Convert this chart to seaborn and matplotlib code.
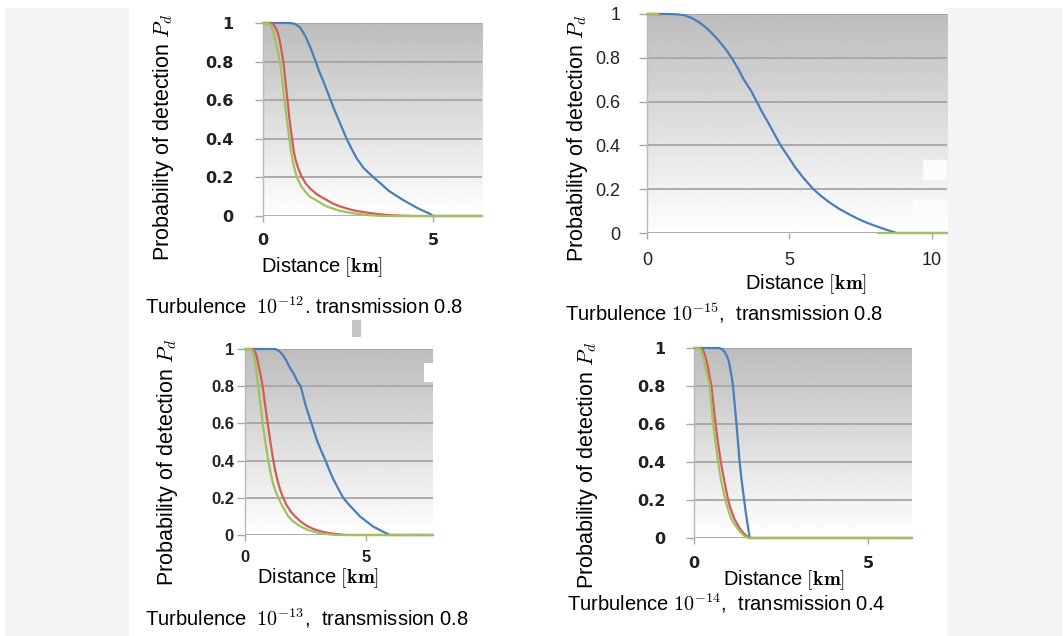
import numpy as np
import matplotlib
matplotlib.use("Agg")
import matplotlib.pyplot as plt
from matplotlib.patches import Rectangle
import seaborn as sns

sns.set_theme(style="white")
plt.rcParams["font.family"] = ["Liberation Sans", "DejaVu Sans"]
plt.rcParams["mathtext.fontset"] = "cm"

# ---------------------------------------------------------------- data
# Probability of detection vs. distance, three receiver curves per case
y_ticks = [0, 0.2, 0.4, 0.6, 0.8, 1.0]
y_tick_labels = ["0", "0.2", "0.4", "0.6", "0.8", "1"]

# Turbulence 1e-12, transmission 0.8
t12_blue_km = [0, 0.8, 0.95, 1.1, 1.25, 1.4, 1.55, 1.65, 1.77, 1.88, 1.99, 2.1, 2.22, 2.34, 2.46,
               2.6, 2.75, 2.95, 3.25, 3.45, 3.7, 4.1, 4.3, 4.5, 4.7, 4.9, 5.0, 6.44]
t12_blue_pd = [1, 1, 0.995, 0.975, 0.93, 0.87, 0.8, 0.75, 0.7, 0.65, 0.6, 0.55, 0.5, 0.45, 0.4,
               0.35, 0.3, 0.25, 0.2, 0.17, 0.13, 0.085, 0.065, 0.045, 0.028, 0.012, 0, 0]
t12_red_km = [0, 0.25, 0.32, 0.4, 0.45, 0.5, 0.55, 0.6, 0.66, 0.72, 0.78, 0.84, 0.9, 0.96, 1.03,
              1.12, 1.25, 1.4, 1.6, 1.87, 2.05, 2.26, 2.5, 2.7, 3.0, 3.25, 3.6, 4.0, 4.4, 6.44]
t12_red_pd = [1, 1, 0.99, 0.965, 0.94, 0.9, 0.85, 0.8, 0.7, 0.6, 0.5, 0.42, 0.34, 0.29, 0.25,
              0.21, 0.17, 0.14, 0.11, 0.083, 0.065, 0.05, 0.037, 0.028, 0.019, 0.013, 0.006, 0.002, 0, 0]
t12_green_km = [0, 0.16, 0.22, 0.3, 0.35, 0.4, 0.45, 0.5, 0.57, 0.63, 0.7, 0.76, 0.82, 0.88, 0.95,
                1.0, 1.12, 1.25, 1.38, 1.58, 1.72, 1.87, 2.05, 2.2, 2.45, 2.66, 3.0, 3.3, 3.6, 6.44]
t12_green_pd = [1, 1, 0.99, 0.955, 0.92, 0.88, 0.84, 0.8, 0.7, 0.6, 0.5, 0.42, 0.34, 0.28, 0.23,
                0.2, 0.155, 0.125, 0.1, 0.08, 0.065, 0.05, 0.039, 0.03, 0.02, 0.014, 0.006, 0.002, 0, 0]

# Turbulence 1e-15, transmission 0.8 (curves coincide; only the ends of red/green show)
t15_blue_km = [0, 0.8, 1.0, 1.3, 1.6, 1.85, 2.1, 2.44, 2.7, 2.97, 3.2, 3.4, 3.65, 3.85, 4.05, 4.27,
               4.48, 4.69, 4.95, 5.2, 5.5, 5.84, 6.1, 6.4, 6.75, 7.1, 7.4, 7.75, 8.07, 8.4, 8.77, 10.53]
t15_blue_pd = [1, 1, 0.999, 0.995, 0.98, 0.96, 0.935, 0.89, 0.85, 0.8, 0.75, 0.7, 0.65, 0.6, 0.55, 0.5,
               0.45, 0.4, 0.35, 0.3, 0.25, 0.2, 0.17, 0.14, 0.11, 0.085, 0.065, 0.045, 0.03, 0.015, 0, 0]
t15_red_km = [0, 0.47]
t15_red_pd = [1, 1]
t15_green_head_km = [0, 0.37]
t15_green_head_pd = [1, 1]
t15_green_tail_km = [8.1, 10.53]
t15_green_tail_pd = [0, 0]

# Turbulence 1e-13, transmission 0.8
t13_blue_km = [0, 1.25, 1.4, 1.55, 1.7, 1.85, 2.0, 2.15, 2.3, 2.4, 2.5, 2.62, 2.75, 2.87, 3.0, 3.16,
               3.33, 3.48, 3.65, 3.85, 4.06, 4.25, 4.5, 4.75, 5.0, 5.3, 5.6, 5.8, 6.0, 7.77]
t13_blue_pd = [1, 1, 0.99, 0.97, 0.94, 0.9, 0.87, 0.83, 0.8, 0.75, 0.7, 0.65, 0.6, 0.55, 0.5, 0.45,
               0.4, 0.35, 0.3, 0.25, 0.2, 0.17, 0.135, 0.1, 0.075, 0.045, 0.025, 0.012, 0, 0]
t13_red_km = [0, 0.34, 0.42, 0.5, 0.58, 0.66, 0.73, 0.83, 0.94, 1.05, 1.17, 1.26, 1.35, 1.46, 1.58,
              1.72, 1.9, 2.07, 2.3, 2.55, 2.8, 3.0, 3.25, 3.5, 3.85, 4.2, 7.77]
t13_red_pd = [1, 1, 0.985, 0.95, 0.9, 0.85, 0.8, 0.7, 0.6, 0.5, 0.4, 0.34, 0.29, 0.24, 0.2,
              0.16, 0.125, 0.1, 0.072, 0.05, 0.034, 0.025, 0.016, 0.01, 0.004, 0, 0]
t13_green_km = [0, 0.25, 0.32, 0.4, 0.47, 0.55, 0.64, 0.73, 0.84, 0.96, 1.05, 1.15, 1.26, 1.38, 1.55,
                1.79, 2.0, 2.25, 2.45, 2.65, 2.9, 3.1, 3.45, 3.8, 7.77]
t13_green_pd = [1, 1, 0.985, 0.94, 0.88, 0.8, 0.7, 0.6, 0.5, 0.4, 0.34, 0.28, 0.235, 0.2, 0.155,
                0.1, 0.072, 0.05, 0.036, 0.025, 0.016, 0.01, 0.004, 0, 0]

# Turbulence 1e-14, transmission 0.4
t14_blue_km = [0, 0.72, 0.8, 0.88, 0.95, 1.0, 1.05, 1.09, 1.12, 1.17, 1.22, 1.265, 1.31, 1.37, 1.44,
               1.49, 1.54, 1.57, 1.6, 6.26]
t14_blue_pd = [1, 1, 0.995, 0.98, 0.955, 0.93, 0.88, 0.84, 0.8, 0.7, 0.6, 0.5, 0.4, 0.3, 0.2,
               0.13, 0.07, 0.035, 0, 0]
t14_red_km = [0, 0.2, 0.25, 0.3, 0.35, 0.4, 0.45, 0.5, 0.56, 0.62, 0.69, 0.77, 0.87, 0.98, 1.04,
              1.1, 1.16, 1.22, 1.3, 1.4, 1.5, 1.6, 6.26]
t14_red_pd = [1, 1, 0.99, 0.97, 0.94, 0.9, 0.85, 0.8, 0.7, 0.6, 0.5, 0.4, 0.3, 0.2, 0.16,
              0.13, 0.1, 0.08, 0.055, 0.03, 0.012, 0, 0]
t14_green_km = [0, 0.15, 0.2, 0.25, 0.3, 0.35, 0.4, 0.45, 0.5, 0.55, 0.62, 0.69, 0.78, 0.9, 0.98,
                1.07, 1.15, 1.25, 1.35, 1.45, 1.55, 6.26]
t14_green_pd = [1, 1, 0.99, 0.965, 0.93, 0.88, 0.84, 0.8, 0.7, 0.6, 0.5, 0.4, 0.3, 0.2, 0.15,
                0.1, 0.075, 0.05, 0.028, 0.01, 0, 0]

BLUE, RED, GREEN = "#4a7ebb", "#d25c57", "#9cc35c"

# ---------------------------------------------------------------- figure
W, H = 1064, 636
fig = plt.figure(figsize=(W / 100, H / 100), dpi=100)
fig.patch.set_facecolor("white")


def fx(x):
    return x / W


def fy(y):
    return 1 - y / H


def px_rect(x0, y0, x1, y1, color, z=0):
    fig.add_artist(Rectangle((fx(x0), fy(y1)), (x1 - x0) / W, (y1 - y0) / H,
                             transform=fig.transFigure, color=color, lw=0, zorder=z))


# side margins
px_rect(5, 8, 129, 636, "#f4f4f4")
px_rect(947, 8, 1062, 636, "#f4f4f4")


def make_axes(l, t, r, b):
    return fig.add_axes([fx(l), fy(b), (r - l) / W, (b - t) / H])


def style_panel(ax, xmax, xticks, tick_family, tick_weight, tick_size, ypad, xpad):
    grad = np.linspace(0.74, 1.0, 256)[:, None]
    ax.imshow(grad, cmap="gray", vmin=0, vmax=1, extent=(0, xmax, 0, 1),
              aspect="auto", zorder=0, interpolation="bilinear")
    ax.set_xlim(0, xmax)
    ax.set_ylim(0, 1)
    ax.set_facecolor("white")
    for s in ("top", "right", "bottom"):
        ax.spines[s].set_visible(False)
    ax.spines["left"].set_color("#b8b8b8")
    ax.spines["left"].set_linewidth(1.0)
    ax.set_yticks(y_ticks, labels=y_tick_labels, fontfamily=tick_family,
                  fontweight=tick_weight, fontsize=tick_size)
    ax.set_xticks(xticks, labels=[str(v) for v in xticks], fontfamily=tick_family,
                  fontweight=tick_weight, fontsize=tick_size)
    ax.tick_params(axis="y", direction="out", length=6, width=1, color="#a8a8a8",
                   pad=ypad, labelcolor="#222222", left=True)
    ax.tick_params(axis="x", direction="out", length=4, width=1, color="#a8a8a8",
                   pad=xpad, labelcolor="#222222", bottom=True)
    ax.yaxis.grid(True, color="#a0a0a0", lw=1.2, zorder=1)
    ax.xaxis.grid(False)
    ax.set_axisbelow(True)
    ax.set_xlabel("")
    ax.set_ylabel("")


def draw(ax, km, pd_, color):
    sns.lineplot(x=km, y=pd_, ax=ax, color=color, linewidth=1.6, sort=False,
                 estimator=None, zorder=3)


def finish_lines(ax):
    for ln in ax.lines:
        ln.set_clip_on(False)
        ln.set_solid_joinstyle("round")


def ylab(x, y):
    fig.text(fx(x), fy(y), r"Probability of detection $P_d$", rotation=90,
             ha="center", va="center", fontsize=15.5, color="black")


def xlab(x, y):
    fig.text(fx(x), fy(y), r"Distance $\mathbf{[km]}$", ha="center", va="center",
             fontsize=14.5, color="black")


def caption(x, y, text):
    fig.text(fx(x), fy(y), text, ha="left", va="center", fontsize=14.5, color="black")


# Panel: turbulence 1e-12
ax1 = make_axes(263, 23, 482, 216)
style_panel(ax1, 6.44, [0, 5], "DejaVu Sans", "bold", 11.5, 15.5, 8)
draw(ax1, t12_blue_km, t12_blue_pd, BLUE)
draw(ax1, t12_red_km, t12_red_pd, RED)
draw(ax1, t12_green_km, t12_green_pd, GREEN)
finish_lines(ax1)
ylab(163, 137)
xlab(322, 267)
caption(145, 307, r"Turbulence  $10^{-12}$. transmission 0.8")

# Panel: turbulence 1e-15
ax2 = make_axes(647, 14, 947, 233)
style_panel(ax2, 10.53, [0, 5, 10], "Liberation Sans", "normal", 13, 13, 10)
draw(ax2, t15_blue_km, t15_blue_pd, BLUE)
draw(ax2, t15_red_km, t15_red_pd, RED)
draw(ax2, t15_green_head_km, t15_green_head_pd, GREEN)
draw(ax2, t15_green_tail_km, t15_green_tail_pd, GREEN)
finish_lines(ax2)
ylab(577, 138)
xlab(806, 284)
caption(565, 313, r"Turbulence $10^{-15}$,  transmission 0.8")

# Panel: turbulence 1e-13
ax3 = make_axes(245, 349, 433, 535)
style_panel(ax3, 7.77, [0, 5], "Liberation Sans", "bold", 12, 2, 7)
draw(ax3, t13_blue_km, t13_blue_pd, BLUE)
draw(ax3, t13_red_km, t13_red_pd, RED)
draw(ax3, t13_green_km, t13_green_pd, GREEN)
finish_lines(ax3)
ylab(168, 462)
xlab(318, 578)
caption(145, 618, r"Turbulence  $10^{-13}$,  transmission 0.8")

# Panel: turbulence 1e-14
ax4 = make_axes(694, 348, 912, 538)
style_panel(ax4, 6.26, [0, 5], "DejaVu Sans", "bold", 11.5, 14.4, 8.6)
draw(ax4, t14_blue_km, t14_blue_pd, BLUE)
draw(ax4, t14_red_km, t14_red_pd, RED)
draw(ax4, t14_green_km, t14_green_pd, GREEN)
finish_lines(ax4)
ylab(587, 465)
xlab(784, 580)
caption(567, 603, r"Turbulence $10^{-14}$,  transmission 0.4")

# small marks between the panels
px_rect(352, 320, 361, 337, "#c4c4c4", z=5)
px_rect(424, 363, 434, 382, "white", z=5)
px_rect(923, 160, 947, 180, "#fbfbfb", z=5)
px_rect(913, 200, 947, 213, "#fbfbfb", z=5)

fig.savefig("out.png", dpi=100)
